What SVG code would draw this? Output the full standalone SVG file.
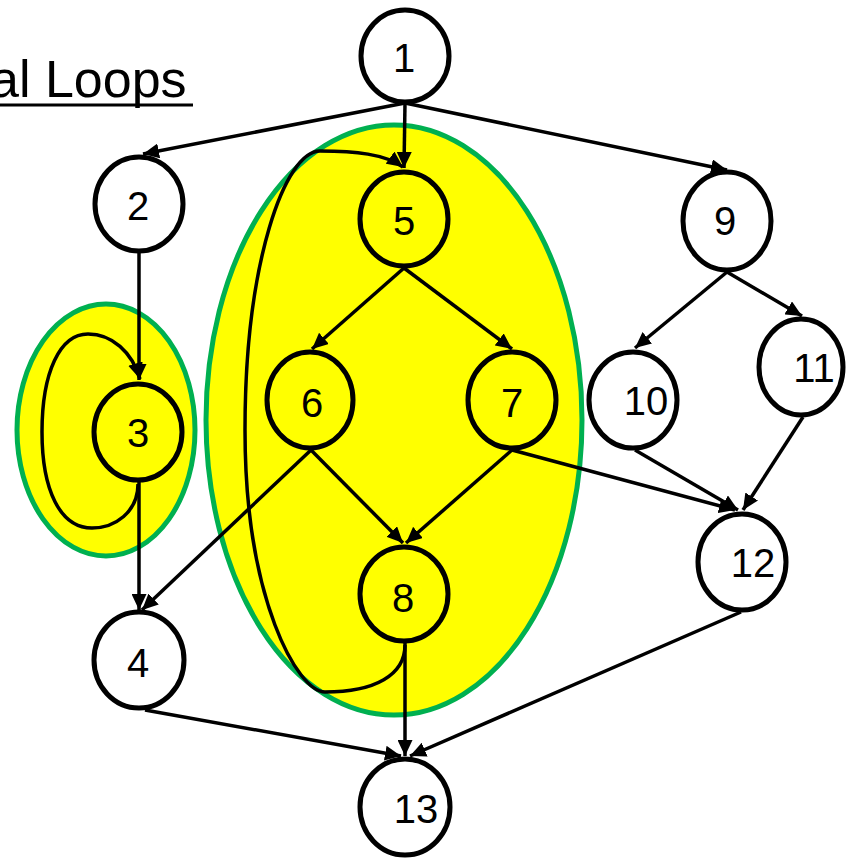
<svg xmlns="http://www.w3.org/2000/svg" width="846" height="859" viewBox="0 0 846 859">
  <defs>
    <marker id="arrow" markerUnits="userSpaceOnUse" markerWidth="17" markerHeight="15" refX="16" refY="7.5" orient="auto">
      <path d="M0,0 L16,7.5 L0,15 z" fill="#000"/>
    </marker>
    <style>
      .region { fill: #FFFF00; stroke: #00B050; stroke-width: 5; }
      .edge { fill: none; stroke: #000; stroke-width: 3.5; marker-end: url(#arrow); }
      .node { stroke: #000; stroke-width: 5; fill: #FFFFFF; }
      .node.in { fill: #FFFF00; }
      .label { font-family: "Liberation Sans", Arial, sans-serif; font-size: 40px; fill: #000; text-anchor: middle; }
      .title { font-family: "Liberation Sans", Arial, sans-serif; font-size: 52px; fill: #000; }
    </style>
  </defs>
  <rect width="846" height="859" fill="#FFFFFF"/>

  <!-- heading -->
  <g id="title">
    <text class="title" x="-10" y="97">al Loops</text>
    <line x1="0" y1="105" x2="193" y2="105" stroke="#000" stroke-width="3"/>
  </g>

  <!-- loop regions -->
  <g id="loop-regions">
    <ellipse id="region-3" class="region" cx="106" cy="430" rx="89" ry="126"/>
    <ellipse id="region-5-8" class="region" cx="394" cy="420" rx="188" ry="295"/>
  </g>

  <!-- connectors -->
  <g id="connectors">
    <line class="edge" x1="405" y1="103" x2="143" y2="154"/>
    <line class="edge" x1="405" y1="103" x2="404" y2="168"/>
    <line class="edge" x1="405" y1="103" x2="727" y2="170"/>
    <line class="edge" x1="139" y1="253" x2="139" y2="380"/>
    <line class="edge" x1="139" y1="482" x2="139" y2="610"/>
    <path class="edge" d="M138,484 C138,512 115,528 92,528 C60,528 42,490 42,432 C42,372 60,334 88,334 C112,334 132,352 140,379"/>
    <line class="edge" x1="404" y1="268" x2="312" y2="349"/>
    <line class="edge" x1="404" y1="268" x2="512" y2="349"/>
    <line class="edge" x1="311" y1="450" x2="403" y2="543"/>
    <line class="edge" x1="311" y1="450" x2="142" y2="610"/>
    <line class="edge" x1="512" y1="450" x2="406" y2="543"/>
    <line class="edge" x1="512" y1="450" x2="735" y2="510"/>
    <line class="edge" x1="405" y1="643" x2="405" y2="756"/>
    <path class="edge" d="M405,645 C405,675 375,692 325,692 C298,692 245,600 245,430 C245,262 285,151 320,151 C355,151 385,154 403,167"/>
    <line class="edge" x1="727" y1="272" x2="635" y2="348"/>
    <line class="edge" x1="727" y1="272" x2="802" y2="316"/>
    <line class="edge" x1="635" y1="450" x2="738" y2="510"/>
    <line class="edge" x1="803" y1="417" x2="743" y2="510"/>
    <line class="edge" x1="741" y1="612" x2="410" y2="756"/>
    <line class="edge" x1="145" y1="710" x2="401" y2="756"/>
  </g>

  <!-- nodes -->
  <g id="node-1"><ellipse class="node" cx="405" cy="56" rx="44" ry="46"/><text class="label" x="404" y="72">1</text></g>
  <g id="node-2"><ellipse class="node" cx="139" cy="204" rx="44" ry="47"/><text class="label" x="138" y="220">2</text></g>
  <g id="node-3"><ellipse class="node in" cx="138" cy="432" rx="44" ry="48"/><text class="label" x="138" y="447">3</text></g>
  <g id="node-4"><ellipse class="node" cx="139" cy="660" rx="45" ry="48"/><text class="label" x="138" y="677">4</text></g>
  <g id="node-5"><ellipse class="node in" cx="404" cy="219" rx="44" ry="47"/><text class="label" x="404" y="235">5</text></g>
  <g id="node-6"><ellipse class="node in" cx="310" cy="400" rx="43" ry="48"/><text class="label" x="312" y="417">6</text></g>
  <g id="node-7"><ellipse class="node in" cx="512" cy="400" rx="44" ry="48"/><text class="label" x="512" y="417">7</text></g>
  <g id="node-8"><ellipse class="node in" cx="404" cy="594" rx="44" ry="47"/><text class="label" x="403" y="612">8</text></g>
  <g id="node-9"><ellipse class="node" cx="727" cy="221" rx="44" ry="49"/><text class="label" x="725" y="235">9</text></g>
  <g id="node-10"><ellipse class="node" cx="633" cy="400" rx="44" ry="48"/><text class="label" x="646" y="415">10</text></g>
  <g id="node-11"><ellipse class="node" cx="801" cy="367" rx="42" ry="48"/><text class="label" x="814" y="382">11</text></g>
  <g id="node-12"><ellipse class="node" cx="742" cy="562" rx="44" ry="48"/><text class="label" x="753" y="577">12</text></g>
  <g id="node-13"><ellipse class="node" cx="405" cy="807" rx="45" ry="48"/><text class="label" x="416" y="823">13</text></g>
</svg>
